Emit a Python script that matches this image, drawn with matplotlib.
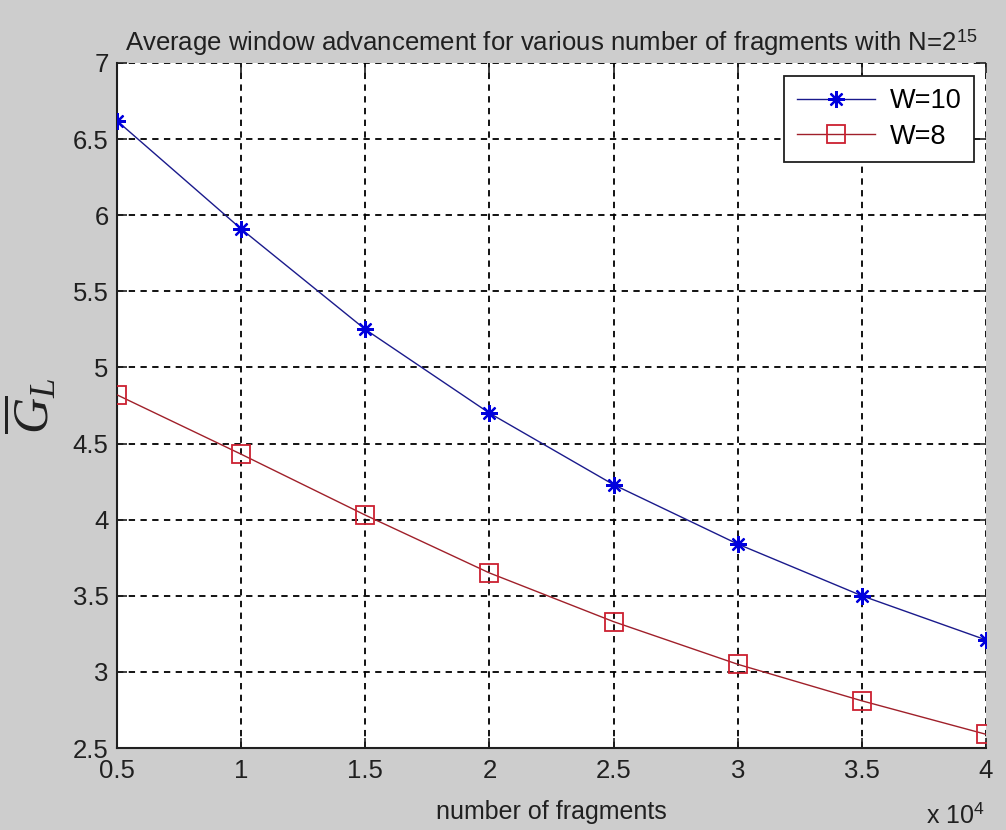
import matplotlib
matplotlib.use("Agg")
import matplotlib.pyplot as plt
from matplotlib.ticker import FuncFormatter

plt.rcParams['font.family'] = ['Liberation Sans', 'DejaVu Sans']
plt.rcParams['mathtext.fontset'] = 'custom'
plt.rcParams['mathtext.rm'] = 'Liberation Sans'
plt.rcParams['mathtext.it'] = 'Liberation Serif:italic'
plt.rcParams['mathtext.bf'] = 'Liberation Sans:bold'

# data
fragments = [5000, 10000, 15000, 20000, 25000, 30000, 35000, 40000]
w10 = [6.62, 5.91, 5.25, 4.70, 4.23, 3.84, 3.50, 3.21]
w8 = [4.82, 4.43, 4.03, 3.65, 3.33, 3.05, 2.81, 2.59]
xticks = [5000, 10000, 15000, 20000, 25000, 30000, 35000, 40000]
yticks = [2.5, 3, 3.5, 4, 4.5, 5, 5.5, 6, 6.5, 7]
title = "Average window advancement for various number of fragments with N=2$^{15}$"

fig = plt.figure(figsize=(10.06, 8.30), dpi=100, facecolor='#cdcdcd')
L, R, T, B = 117, 986, 63, 748
ax = fig.add_axes([L/1006, 1-B/830, (R-L)/1006, (B-T)/830])
ax.set_facecolor('white')

ax.plot(fragments, w10, color='#1a1a8c', lw=1.0, marker=(8, 2, 0), markersize=12,
        markeredgewidth=1.6, markerfacecolor='#0000dd', markeredgecolor='#0000dd',
        label='W=10', zorder=3)
ax.plot(fragments, w8, color='#a0202a', lw=1.0, marker='s', markersize=13,
        markerfacecolor='none', markeredgecolor='#cc2030', markeredgewidth=1.3,
        label='W=8', zorder=3)

ax.set_xlim(5000, 40000)
ax.set_ylim(2.5, 7)
ax.set_xticks(xticks)
ax.set_yticks(yticks)
ax.xaxis.set_major_formatter(FuncFormatter(lambda v, p: f"{v/1e4:g}"))
ax.yaxis.set_major_formatter(FuncFormatter(lambda v, p: f"{v:g}"))

ax.grid(True, color='black', linestyle=(0, (3.5, 3)), linewidth=1.3)
ax.set_axisbelow(True)

for s in ['top', 'right']:
    ax.spines[s].set_visible(False)
for s in ['left', 'bottom']:
    ax.spines[s].set_linewidth(1.5)
    ax.spines[s].set_color('#202020')

ax.tick_params(direction='in', length=7, width=1.2, top=True, right=True,
               labelsize=18.5, colors='#202020', pad=6)
ax.tick_params(axis='x', pad=8)

ax.set_title(title, fontsize=18.5, color='#202020', pad=9)
ax.set_xlabel('number of fragments', fontsize=18, color='#202020', labelpad=12)
ax.set_ylabel(r'$\overline{G}_L$', fontsize=36, color='#202020', labelpad=10)

fig.text(985/1006, 1-815/830, r'x 10$^4$', fontsize=18, color='#202020',
         ha='right', va='center')

leg = ax.legend(loc='upper right',
                bbox_to_anchor=((974-L)/(R-L), 1-(76-T)/(B-T)),
                borderaxespad=0,
                fontsize=19.5, frameon=True, fancybox=False, edgecolor='#202020',
                framealpha=1, borderpad=0.45, handlelength=2.9, labelspacing=0.35,
                handletextpad=0.55)
leg.get_frame().set_linewidth(1.3)

fig.savefig('out.png', dpi=100, facecolor=fig.get_facecolor())
